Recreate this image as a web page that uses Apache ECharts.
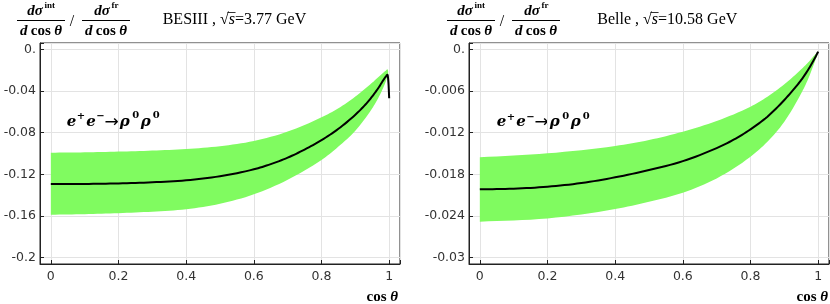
<!DOCTYPE html>
<html><head><meta charset="utf-8">
<script src="https://cdn.jsdelivr.net/npm/echarts@6/dist/echarts.min.js"></script>
<style>html,body{margin:0;padding:0;background:#fff}#c{width:830px;height:304px}</style>
</head><body><div id="c"></div>
<script>
// ---- tick labels ----
const xTicks = [0, 0.2, 0.4, 0.6, 0.8, 1];
const yTicksL = [-0.2, -0.16, -0.12, -0.08, -0.04, 0];
const yTicksR = [-0.03, -0.024, -0.018, -0.012, -0.006, 0];

// ---- left panel (BESIII, sqrt(s)=3.77 GeV) ----
const lineXL = [0, 0.1, 0.2, 0.3, 0.4, 0.5, 0.6, 0.65, 0.7, 0.75, 0.8, 0.85, 0.9, 0.93, 0.95, 0.97, 0.98, 0.99, 0.995, 0.998, 1.0];
const lineYL = [-0.1293, -0.1292, -0.1287, -0.1276, -0.1257, -0.1218, -0.1152, -0.1102, -0.1040, -0.0962, -0.0872, -0.0763, -0.0628, -0.0530, -0.0452, -0.0362, -0.0310, -0.0262, -0.0245, -0.0330, -0.0470];
const bandXL = [0, 0.1, 0.2, 0.3, 0.4, 0.5, 0.6, 0.7, 0.8, 0.85, 0.9, 0.95, 0.97, 0.99, 0.995, 0.997];
const bandLoL = [-0.1587, -0.1582, -0.1572, -0.1558, -0.1535, -0.1482, -0.1392, -0.1252, -0.1062, -0.0934, -0.0781, -0.0566, -0.0454, -0.0310, -0.0262, -0.0280];
const bandHiL = [-0.0992, -0.0989, -0.0982, -0.0972, -0.0957, -0.0930, -0.0880, -0.0790, -0.0653, -0.0566, -0.0454, -0.0320, -0.0262, -0.0205, -0.0192, -0.0210];

// ---- right panel (Belle, sqrt(s)=10.58 GeV) ----
const lineXR = [0, 0.1, 0.2, 0.3, 0.4, 0.5, 0.6, 0.7, 0.75, 0.8, 0.85, 0.9, 0.93, 0.95, 0.97, 0.99, 1.0];
const lineYR = [-0.02016, -0.02006, -0.01978, -0.01925, -0.01843, -0.01738, -0.0161, -0.01422, -0.01302, -0.01152, -0.0097, -0.0073, -0.00562, -0.00442, -0.00298, -0.0013, -0.00034];
const bandXR = [0, 0.2, 0.4, 0.5, 0.6, 0.7, 0.8, 0.85, 0.9, 0.95, 0.97, 0.99, 1.0];
const bandLoR = [-0.02482, -0.02434, -0.02300, -0.02194, -0.02064, -0.01858, -0.01546, -0.0133, -0.01042, -0.00634, -0.00432, -0.00178, -0.00034];
const bandHiR = [-0.01555, -0.01498, -0.01392, -0.01306, -0.01186, -0.01032, -0.00826, -0.00682, -0.00504, -0.00288, -0.00192, -0.00082, -0.00034];

const GREEN = '#80fb60';
const AX = '#222';
const LBL = '#333';
const SERIF = '"Liberation Serif", "DejaVu Serif", serif';
const DSERIF = '"DejaVu Serif", serif';
const SANS = '"DejaVu Sans", sans-serif';

function pick(list, v) { return list.find(t => Math.abs(t - v) < 1e-9); }

// monotone cubic (Fritsch-Carlson) sampling of pixel points, for smooth rendering
function monoSample(pts, n) {
  const k = pts.length;
  if (k < 3) return pts.slice();
  const d = [], m = [];
  for (let i = 0; i < k - 1; i++) d.push((pts[i + 1][1] - pts[i][1]) / (pts[i + 1][0] - pts[i][0]));
  m.push(d[0]);
  for (let i = 1; i < k - 1; i++) m.push(d[i - 1] * d[i] <= 0 ? 0 : (d[i - 1] + d[i]) / 2);
  m.push(d[k - 2]);
  for (let i = 0; i < k - 1; i++) {
    if (d[i] === 0) { m[i] = 0; m[i + 1] = 0; continue; }
    const a = m[i] / d[i], b = m[i + 1] / d[i], s = a * a + b * b;
    if (s > 9) { const t = 3 / Math.sqrt(s); m[i] = t * a * d[i]; m[i + 1] = t * b * d[i]; }
  }
  const out = [];
  for (let i = 0; i < k - 1; i++) {
    const [x0, y0] = pts[i], [x1, y1] = pts[i + 1], h = x1 - x0;
    for (let j = 0; j < n; j++) {
      const t = j / n, t2 = t * t, t3 = t2 * t;
      const y = (2 * t3 - 3 * t2 + 1) * y0 + (t3 - 2 * t2 + t) * h * m[i] + (-2 * t3 + 3 * t2) * y1 + (t3 - t2) * h * m[i + 1];
      out.push([x0 + t * h, y]);
    }
  }
  out.push(pts[k - 1]);
  return out;
}

function xAx(grid) {
  return {
    gridIndex: grid, type: 'value', min: -0.032, max: 1.032, splitNumber: 5,
    axisLine: { show: true, onZero: false, lineStyle: { color: AX, width: 1 } },
    axisTick: { show: true, inside: true, length: 4, lineStyle: { color: AX } },
    splitLine: { show: true, lineStyle: { color: '#e3e3e3', width: 1 } },
    axisLabel: { show: true, margin: 6, color: LBL, fontFamily: SANS, fontSize: 12.5,
      formatter: v => { const t = pick(xTicks, v); return t === undefined ? '' : String(t); } }
  };
}
function yAx(grid, mn, mx, step, ticks) {
  return {
    gridIndex: grid, type: 'value', min: mn, max: mx, minInterval: step, maxInterval: step,
    axisLine: { show: true, onZero: false, lineStyle: { color: AX, width: 1 } },
    axisTick: { show: true, inside: true, length: 4, lineStyle: { color: AX } },
    splitLine: { show: true, lineStyle: { color: '#e3e3e3', width: 1 } },
    axisLabel: { show: true, margin: 4, color: LBL, fontFamily: SANS, fontSize: 12.5,
      formatter: v => { const t = pick(ticks, v); return t === undefined ? '' : (t === 0 ? '0.' : String(t)); } }
  };
}
function bandSeries(idx, xs, lo, hi) {
  return {
    type: 'custom', xAxisIndex: idx, yAxisIndex: idx, silent: true, z: 1,
    data: xs.map((x, i) => [x, lo[i], hi[i]]),
    encode: { x: 0, y: [1, 2] },
    renderItem: function (params, api) {
      if (params.dataIndex !== 0) return null;
      const up = monoSample(xs.map((x, i) => api.coord([x, hi[i]])), 8);
      const dn = monoSample(xs.map((x, i) => api.coord([x, lo[i]])), 8);
      return { type: 'polygon', shape: { points: up.concat(dn.reverse()) }, style: { fill: GREEN, stroke: null } };
    }
  };
}
function lineSeries(idx, xs, ys) {
  return {
    type: 'custom', xAxisIndex: idx, yAxisIndex: idx, silent: true, z: 3,
    data: xs.map((x, i) => [x, ys[i]]),
    encode: { x: 0, y: 1 },
    renderItem: function (params, api) {
      if (params.dataIndex !== 0) return null;
      const pts = monoSample(xs.map((x, i) => api.coord([x, ys[i]])), 8);
      return { type: 'polyline', shape: { points: pts }, style: { stroke: '#000', lineWidth: 2, fill: null, lineJoin: 'round' } };
    }
  };
}

function titleMath(ox) {
  const bi = 'bold italic 15px ' + SERIF;
  const b = 'bold 15px ' + SERIF;
  const sup = 'bold 9px ' + SERIF;
  const den = () => ({ text: '{i|d} {b|cos} {i|θ}', rich: { i: { font: bi, fill: '#000' }, b: { font: b, fill: '#000' } },
    align: 'center', verticalAlign: 'middle' });
  return [
    { type: 'text', x: ox + 35, y: 11, style: { text: 'dσ', font: bi, fill: '#000', align: 'center', verticalAlign: 'middle' } },
    { type: 'text', x: ox + 44.5, y: 6, style: { text: 'int', font: sup, fill: '#000', align: 'left', verticalAlign: 'middle' } },
    { type: 'line', shape: { x1: ox + 17, y1: 20.5, x2: ox + 65, y2: 20.5 }, style: { stroke: '#000', lineWidth: 1 } },
    { type: 'text', x: ox + 41, y: 31.5, style: den() },
    { type: 'text', x: ox + 72, y: 22, style: { text: '/', font: '16px ' + SERIF, fill: '#000', align: 'center', verticalAlign: 'middle' } },
    { type: 'text', x: ox + 102, y: 11, style: { text: 'dσ', font: bi, fill: '#000', align: 'center', verticalAlign: 'middle' } },
    { type: 'text', x: ox + 111.5, y: 6, style: { text: 'fr', font: sup, fill: '#000', align: 'left', verticalAlign: 'middle' } },
    { type: 'line', shape: { x1: ox + 82, y1: 20.5, x2: ox + 130, y2: 20.5 }, style: { stroke: '#000', lineWidth: 1 } },
    { type: 'text', x: ox + 106, y: 31.5, style: den() }
  ];
}
const meas = document.createElement('canvas').getContext('2d');
function textW(s, font) { meas.font = font; return meas.measureText(s).width; }
function info(x, label, val) {
  const fr = '16px ' + SERIF, fi = 'italic 16px ' + SERIF;
  const pre = label + ' , √';
  const w1 = textW(pre, fr), wr = textW('√', fr), ws = textW('s', fi);
  return [
    { type: 'text', x: x, y: 20, style: {
      text: '{r|' + pre + '}{i|s}{r|=' + val + ' GeV}',
      rich: { r: { font: fr, fill: '#000' }, i: { font: fi, fill: '#000' } },
      align: 'left', verticalAlign: 'middle' } },
    { type: 'line', shape: { x1: x + w1 - wr * 0.15, y1: 12.5, x2: x + w1 + ws + 0.5, y2: 12.5 }, style: { stroke: '#000', lineWidth: 0.8 } }
  ];
}
// e+e- -> rho0 rho0, glyph by glyph
function proc(x0, yb) {
  const big = 'bold italic 15px ' + DSERIF;
  const sup = 'bold 10px ' + DSERIF;
  const t = (dx, dy, s, f, al) => ({ type: 'text', x: x0 + dx, y: yb + dy,
    style: { text: s, font: f, fill: '#000', align: al || 'left', verticalAlign: 'middle' } });
  return [
    t(0, -5, 'e', big), t(10, -10.5, '+', sup), t(19.5, -5, 'e', big), t(29.5, -10.5, '−', sup),
    t(45, -4.5, '→', '17px "DejaVu Sans", sans-serif', 'center'),
    t(53, -5, 'ρ', big), t(65.5, -11, '0', sup), t(74, -5, 'ρ', big), t(86, -11, '0', sup)
  ];
}
function cosName(x) {
  return { type: 'text', x: x, y: 297, style: {
    text: '{b|cos }{i|θ}', rich: { b: { font: 'bold 15px ' + SERIF, fill: '#000' }, i: { font: 'bold italic 15px ' + SERIF, fill: '#000' } },
    align: 'right', verticalAlign: 'middle' } };
}

const chart = echarts.init(document.getElementById('c'), null, { renderer: 'canvas' });
chart.setOption({
  animation: false,
  backgroundColor: '#fff',
  grid: [
    { left: 40, top: 43, width: 360, height: 221, show: true, borderColor: AX, borderWidth: 1, backgroundColor: 'transparent', containLabel: false, outerBoundsMode: 'none' },
    { left: 469, top: 43, width: 360, height: 221, show: true, borderColor: AX, borderWidth: 1, backgroundColor: 'transparent', containLabel: false, outerBoundsMode: 'none' }
  ],
  xAxis: [xAx(0), xAx(1)],
  yAxis: [yAx(0, -0.206, 0.006, 0.04, yTicksL), yAx(1, -0.0309, 0.0009, 0.006, yTicksR)],
  series: [
    bandSeries(0, bandXL, bandLoL, bandHiL),
    lineSeries(0, lineXL, lineYL),
    bandSeries(1, bandXR, bandLoR, bandHiR),
    lineSeries(1, lineXR, lineYR)
  ],
  graphic: [].concat(
    titleMath(0), titleMath(430),
    info(162.7, 'BESIII', '3.77'), info(597.3, 'Belle', '10.58'),
    proc(66.7, 126.7), proc(496.7, 127.5),
    [cosName(398), cosName(828)]
  )
});
</script></body></html>
